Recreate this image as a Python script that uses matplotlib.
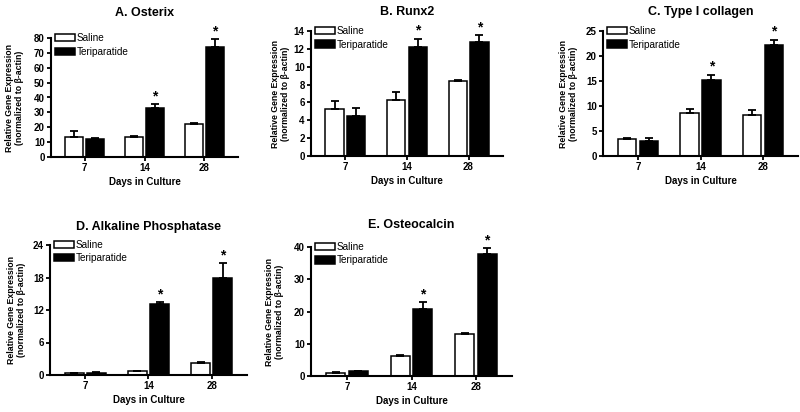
import matplotlib
matplotlib.use("Agg")
import matplotlib.pyplot as plt
import numpy as np

plt.rcParams['font.family'] = ['Liberation Sans', 'DejaVu Sans']

days = ["7", "14", "28"]
series_names = ["Saline", "Teriparatide"]

titles = ["A. Osterix", "B. Runx2", "C. Type I collagen",
          "D. Alkaline Phosphatase", "E. Osteocalcin"]

saline_means = [
    [13.6, 13.2, 22.2],
    [5.3, 6.3, 8.35],
    [3.34, 8.67, 8.13],
    [0.3, 0.74, 2.15],
    [1.05, 6.2, 13.05],
]
saline_errs = [
    [3.9, 0.9, 0.5],
    [0.86, 0.82, 0.2],
    [0.2, 0.73, 1.07],
    [0.05, 0.06, 0.25],
    [0.3, 0.3, 0.35],
]
teri_means = [
    [11.9, 32.7, 74.2],
    [4.48, 12.2, 12.73],
    [3.0, 15.3, 22.2],
    [0.43, 13.2, 17.97],
    [1.56, 20.7, 37.8],
]
teri_errs = [
    [1.1, 2.7, 5.1],
    [0.94, 0.95, 0.77],
    [0.7, 1.0, 1.1],
    [0.12, 0.3, 2.73],
    [0.1, 2.3, 1.8],
]
significant = [False, True, True]

y_max = [80, 14, 25, 24, 40]
y_step = [10, 2, 5, 6, 10]

ylabel_text = "Relative Gene Expression\n(normalized to \u03b2-actin)"
xlabel_text = "Days in Culture"

W, H = 800, 412
# axes boxes in pixels: left, right, top, bottom
boxes = [
    (51, 238, 38, 157),
    (311, 503, 31, 156),
    (603, 798, 31, 156),
    (50, 247, 245, 375),
    (311, 512, 247, 376),
]
title_pads = [16, 11.5, 11.5, 11, 13.5]
ylabel_pads = [7, 3, 6, 5, 7]

fig = plt.figure(figsize=(8, 4.12), dpi=100)

x = np.arange(len(days))
bw = 0.3
off = 0.175

for i in range(5):
    l, r, t, b = boxes[i]
    ax = fig.add_axes([l / W, 1 - b / H, (r - l) / W, (b - t) / H])
    ax.bar(x - off, saline_means[i], bw, color='white', edgecolor='black',
           linewidth=1.1, label=series_names[0], zorder=2)
    ax.bar(x + off, teri_means[i], bw, color='black', edgecolor='black',
           linewidth=1.1, label=series_names[1], zorder=2)
    ax.errorbar(x - off, saline_means[i], yerr=[np.zeros(3), saline_errs[i]], fmt='none',
                ecolor='black', elinewidth=1.3, capsize=3.0, capthick=1.3, zorder=3)
    ax.errorbar(x + off, teri_means[i], yerr=[np.zeros(3), teri_errs[i]], fmt='none',
                ecolor='black', elinewidth=1.3, capsize=3.0, capthick=1.3, zorder=3)
    for j in range(3):
        if significant[j]:
            ax.annotate("*", (x[j] + off, teri_means[i][j] + teri_errs[i][j]),
                        xytext=(0, 0.5), textcoords='offset points', ha='center',
                        va='bottom', fontsize=10, fontweight='bold')
    ax.set_xlim(-0.56, 2.56)
    ax.set_ylim(0, y_max[i])
    ax.set_yticks(np.arange(0, y_max[i] + 0.01, y_step[i]))
    ax.set_xticks(x)
    ax.set_xticklabels(days)
    for sp in ['top', 'right']:
        ax.spines[sp].set_visible(False)
    for sp in ['left', 'bottom']:
        ax.spines[sp].set_linewidth(1.5)
    ax.tick_params(axis='both', direction='out', length=3, width=1.3, labelsize=7, pad=1.5)
    for lab in ax.get_xticklabels() + ax.get_yticklabels():
        lab.set_fontweight('bold')
    ax.set_title(titles[i], fontsize=9, fontweight='bold', pad=title_pads[i])
    ax.set_xlabel(xlabel_text, fontsize=7, fontweight='bold', labelpad=3)
    ax.set_ylabel(ylabel_text, fontsize=6.3, fontweight='bold', labelpad=ylabel_pads[i],
                  linespacing=1.1)
    ax.legend(loc='upper left', bbox_to_anchor=(0.02, 1.04), frameon=False, fontsize=7.2,
              handlelength=2.0, handleheight=0.75, handletextpad=0.15, labelspacing=0.35,
              borderaxespad=0, borderpad=0)

fig.savefig("out.png", dpi=100)
